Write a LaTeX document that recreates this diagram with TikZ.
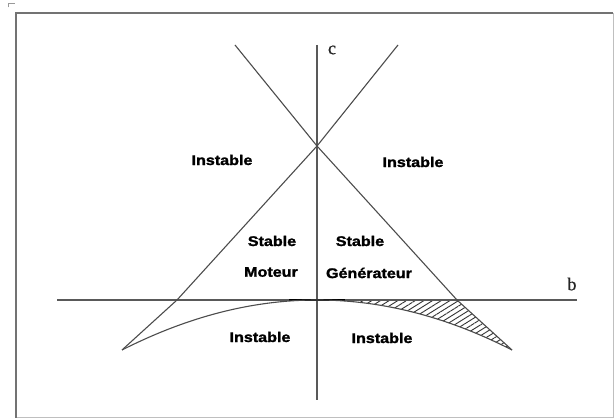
\documentclass[tikz,border=0pt]{standalone}
\usepackage{fontspec}
\setmainfont{Liberation Serif}
\newfontfamily\lblfont[FakeStretch=1.15, FakeBold=1.6]{Liberation Sans Bold}
\newfontfamily\axfont[FakeBold=0.8]{Liberation Serif}
\usetikzlibrary{patterns.meta}
\begin{document}
\begin{tikzpicture}[x=1pt,y=-1pt,
  region/.style={font=\lblfont\fontsize{14}{16}\selectfont, inner sep=0pt, text=black},
  axislbl/.style={font=\axfont\fontsize{18}{20}\selectfont, inner sep=0pt, text=black!85},
  axisline/.style={draw=black!65, line width=1.3pt},
  bound/.style={draw=black!70, line width=1.1pt, line join=round},
  hatch/.style={pattern={Lines[angle=32, distance=4.6pt, line width=0.9pt]}, pattern color=black!80}]
\useasboundingbox (0,0) rectangle (616,419);
\fill[white] (0,0) rectangle (616,419);
% frame
\draw[black!25, line width=1pt] (613,13) -- (613,418) -- (16,418);
\draw[black!55, line width=1.6pt] (16,418) -- (16,13) -- (613,13);
\draw[black!40, line width=1pt] (8,7.5) -- (8,4) -- (15,4);
% coordinates
\coordinate (ctop) at (317,45);
\coordinate (cbot) at (317,400);
\coordinate (bl) at (57,300);
\coordinate (br) at (577,300);
\coordinate (X) at (317,146);
\coordinate (tl) at (235,45);
\coordinate (tr) at (398,45);
\coordinate (al) at (177,300);
\coordinate (ar) at (457,300);
\coordinate (el) at (122,350);
\coordinate (er) at (512,350);
\coordinate (O) at (317,300);
% hatched region
\path[hatch] (O) -- (ar) -- (er) .. controls (446.7,316.7) and (382.3,300) .. (O) -- cycle;
% axes
\draw[axisline] (bl) -- (br);
\draw[axisline] (ctop) -- (cbot);
\draw[black, line width=2pt] (289,300) -- (345,300);
% boundary lines
\draw[bound] (tr) -- (X) -- (al) -- (el);
\draw[bound] (tl) -- (X) -- (ar) -- (er);
% lower curves
\draw[bound] (el) .. controls (187.7,316.7) and (252.3,300) .. (O);
\draw[bound] (O) .. controls (382.3,300) and (446.7,316.7) .. (er);
% labels
\node[axislbl] (c) at (332,50) {c};
\node[axislbl] (b) at (572,284) {b};
\node[region] (i1) at (222,160) {Instable};
\node[region] (i2) at (413,162) {Instable};
\node[region] (s1) at (272,241) {Stable};
\node[region] (s2) at (360,241) {Stable};
\node[region] (m) at (271,272) {Moteur};
\node[region] (g) at (369,273) {Générateur};
\node[region] (i3) at (260,337) {Instable};
\node[region] (i4) at (382,338) {Instable};
\end{tikzpicture}
\end{document}
